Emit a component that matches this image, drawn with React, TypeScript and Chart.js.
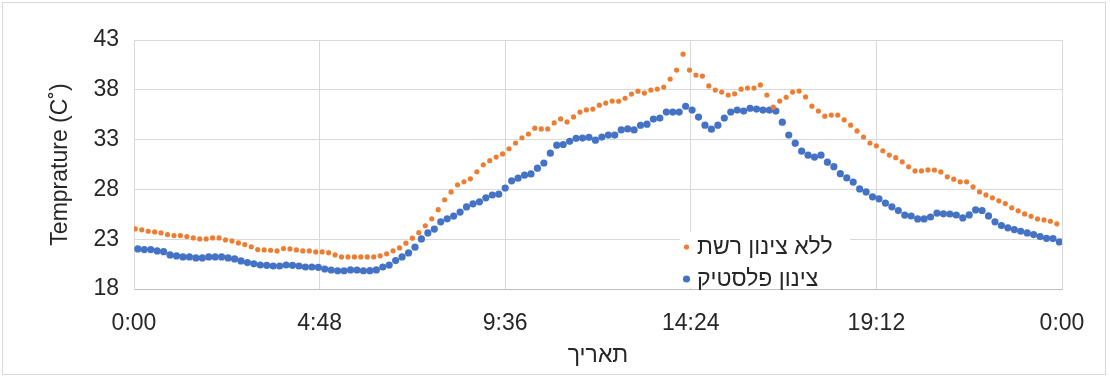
import React, { useEffect, useRef } from 'react';
import { Chart, registerables } from 'chart.js';

Chart.register(...registerables);

// ---- data ----
const seriesNoNetLabel = 'ללא צינון רשת';
const seriesPlasticLabel = 'צינון פלסטיק';

// readings every 10 minutes across one day (°C)
const noNetValues = [
  24.04, 23.94, 23.8, 23.73, 23.63, 23.46, 23.36, 23.36, 23.26, 23.13,
  23.03, 23.03, 23.13, 23.13, 22.93, 22.83, 22.63, 22.46, 22.23, 21.96,
  21.92, 21.89, 21.82, 22.06, 22.02, 21.92, 21.82, 21.82, 21.72, 21.72,
  21.65, 21.42, 21.22, 21.22, 21.22, 21.22, 21.22, 21.22, 21.33, 21.53,
  21.83, 22.12, 22.6, 23.1, 23.66, 24.35, 25.05, 25.96, 26.96, 27.75,
  28.46, 28.76, 29.06, 29.77, 30.47, 30.88, 31.25, 31.56, 32.08, 32.66,
  33.18, 33.56, 34.15, 34.07, 34.07, 34.67, 35.08, 34.77, 35.28, 35.76,
  35.98, 36.06, 36.46, 36.67, 36.87, 36.85, 37.15, 37.57, 37.86, 37.67,
  37.97, 38.07, 38.27, 39.08, 39.98, 41.58, 39.98, 39.48, 39.38, 38.39,
  37.97, 37.77, 37.48, 37.6, 38.06, 38.17, 38.17, 38.49, 37.48, 36.26,
  36.87, 37.25, 37.77, 37.87, 37.28, 36.36, 35.86, 35.35, 35.46, 35.46,
  34.99, 34.45, 33.87, 33.26, 32.66, 32.38, 31.88, 31.45, 31.19, 30.77,
  30.27, 29.85, 29.85, 29.96, 29.95, 29.75, 29.26, 29.03, 28.76, 28.76,
  28.26, 27.75, 27.45, 27.15, 26.85, 26.58, 26.15, 25.85, 25.54, 25.3,
  25.04, 24.94, 24.8, 24.54,
];

const plasticValues = [
  22.02, 21.96, 21.96, 21.82, 21.75, 21.42, 21.32, 21.22, 21.22, 21.12,
  21.12, 21.22, 21.22, 21.22, 21.12, 21.02, 20.82, 20.65, 20.53, 20.41,
  20.38, 20.31, 20.31, 20.41, 20.38, 20.31, 20.21, 20.21, 20.18, 20.01,
  19.91, 19.83, 19.83, 19.92, 19.91, 19.83, 19.84, 19.92, 20.21, 20.4,
  20.85, 21.22, 21.62, 22.2, 23.03, 23.63, 24.02, 24.74, 25.05, 25.32,
  25.72, 26.24, 26.55, 26.75, 27.15, 27.44, 27.52, 28.14, 28.86, 29.13,
  29.43, 29.55, 30.13, 30.65, 31.64, 32.44, 32.51, 32.83, 33.13, 33.15,
  33.23, 32.94, 33.25, 33.45, 33.45, 33.97, 34.07, 33.97, 34.44, 34.55,
  35.06, 35.16, 35.76, 35.76, 35.76, 36.35, 35.96, 35.26, 34.45, 34.05,
  34.45, 35.16, 35.77, 35.96, 35.86, 36.15, 36.06, 35.96, 35.96, 35.86,
  34.75, 33.45, 32.64, 31.84, 31.44, 31.25, 31.44, 30.73, 30.28, 29.58,
  29.15, 28.74, 28.05, 27.75, 27.25, 27.05, 26.63, 26.25, 25.87, 25.42,
  25.33, 25.04, 25.04, 25.23, 25.62, 25.55, 25.53, 25.43, 25.14, 25.44,
  25.94, 25.88, 25.34, 24.74, 24.37, 24.14, 23.97, 23.8, 23.63, 23.46,
  23.26, 23.09, 23.06, 22.73,
];

const sampleIntervalMin = 10;
const noNetStartMin = 2;
const plasticStartMin = 6;

const xTickLabels = ['0:00', '4:48', '9:36', '14:24', '19:12', '0:00'];
const yAxisTitle = 'Temprature (C˚)';
const xAxisTitle = 'תאריך';

// ---- styling ----
const FONT = "'Liberation Sans', Arial, sans-serif";
const FS = 23;
const TEXT = '#262626';
const ORANGE = '#ED7D31';
const BLUE = '#4472C4';

const toPoints = (vals: number[], start: number) =>
  vals.map((v, i) => ({ x: start + i * sampleIntervalMin, y: v }));

const legendPlugin = {
  id: 'insideLegend',
  afterDatasetsDraw(chart: any) {
    const { ctx } = chart;
    ctx.save();
    ctx.fillStyle = '#ffffff';
    ctx.fillRect(680, 232, 170, 56);
    const items = chart.data.datasets.map((ds: any, i: number) => ({
      label: ds.label,
      color: ds.pointBackgroundColor,
      r: ds.pointRadius,
      y: i === 0 ? 247 : 279,
    }));
    ctx.font = `${FS}px ${FONT}`;
    ctx.textBaseline = 'middle';
    ctx.textAlign = 'left';
    for (const it of items) {
      ctx.beginPath();
      ctx.fillStyle = it.color;
      ctx.arc(686.5, it.y, it.r, 0, Math.PI * 2);
      ctx.fill();
      ctx.fillStyle = TEXT;
      ctx.fillText(it.label, 697, it.y + 1);
    }
    ctx.restore();
  },
};

export default function App() {
  const canvasRef = useRef<HTMLCanvasElement | null>(null);

  useEffect(() => {
    if (!canvasRef.current) return;
    const chart = new Chart(canvasRef.current, {
      type: 'scatter',
      data: {
        datasets: [
          {
            label: seriesNoNetLabel,
            data: toPoints(noNetValues, noNetStartMin),
            pointRadius: 2.6,
            pointBorderWidth: 0,
            pointBackgroundColor: ORANGE,
            backgroundColor: ORANGE,
            borderColor: ORANGE,
            showLine: false,
          },
          {
            label: seriesPlasticLabel,
            data: toPoints(plasticValues, plasticStartMin),
            pointRadius: 3.6,
            pointBorderWidth: 0,
            pointBackgroundColor: BLUE,
            backgroundColor: BLUE,
            borderColor: BLUE,
            showLine: false,
          },
        ],
      },
      options: {
        animation: false,
        responsive: true,
        maintainAspectRatio: false,
        layout: { padding: { top: 40, right: 48, bottom: 0, left: 0 } },
        plugins: {
          legend: { display: false },
          tooltip: { enabled: false },
        },
        scales: {
          x: {
            type: 'linear',
            min: 0,
            max: 1440,
            ticks: {
              stepSize: 288,
              autoSkip: false,
              maxRotation: 0,
              padding: 21,
              color: TEXT,
              font: { family: FONT, size: FS },
              callback: (_v: any, i: number) => xTickLabels[i],
            },
            grid: { color: '#d9d9d9', lineWidth: 1, drawTicks: false },
            border: { color: '#bfbfbf', width: 1 },
            title: {
              display: true,
              text: xAxisTitle,
              color: TEXT,
              font: { family: FONT, size: FS },
              padding: { top: 0, bottom: 7 },
            },
            afterFit: (s: any) => {
              s.height = 87;
            },
          },
          y: {
            min: 18,
            max: 43,
            ticks: {
              stepSize: 5,
              padding: 15,
              color: TEXT,
              font: { family: FONT, size: FS },
            },
            grid: { color: '#d9d9d9', lineWidth: 1, drawTicks: false },
            border: { color: '#d9d9d9', width: 1 },
            title: {
              display: true,
              text: yAxisTitle,
              color: TEXT,
              font: { family: FONT, size: FS },
              padding: { top: 47, bottom: 0 },
            },
            afterFit: (s: any) => {
              s.width = 134;
            },
          },
        },
      },
      plugins: [legendPlugin],
    });
    return () => chart.destroy();
  }, []);

  return (
    <div style={{ position: 'fixed', left: 0, top: 0, width: 1110, height: 376, background: '#fff' }}>
      <div
        style={{
          position: 'absolute',
          left: 2,
          top: 2,
          width: 1104,
          height: 373,
          border: '1px solid #d9d9d9',
          boxSizing: 'border-box',
          pointerEvents: 'none',
        }}
      />
      <canvas ref={canvasRef} />
    </div>
  );
}
